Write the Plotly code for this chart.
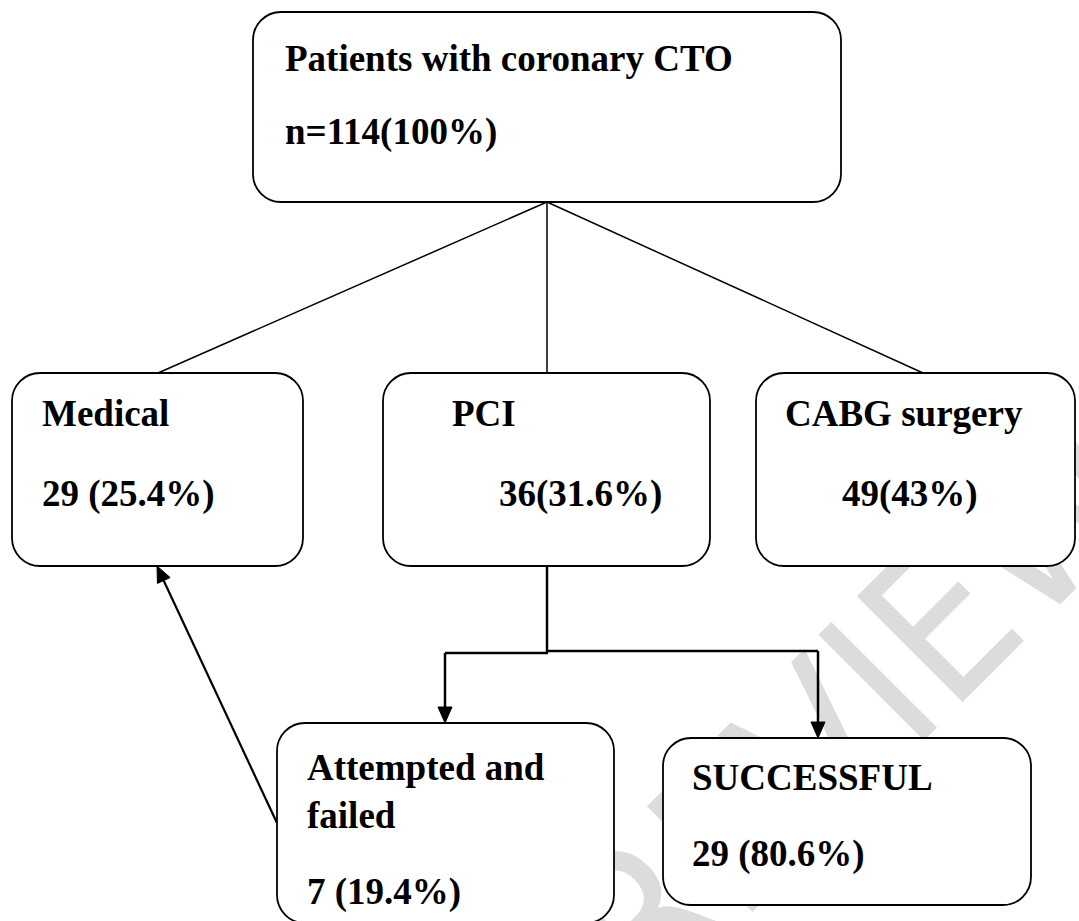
import math
import plotly.graph_objects as go

# ---------------- data ----------------
node_ids = ["root", "medical", "pci", "cabg", "failed", "success"]
node_titles = [["Patients with coronary CTO"], ["Medical"], ["PCI"], ["CABG surgery"],
               ["Attempted and", "failed"], ["SUCCESSFUL"]]
node_counts = [114, 29, 36, 49, 7, 29]
node_pcts = [100, 25.4, 31.6, 43, 19.4, 80.6]
count_formats = ["n={n}({p}%)", "{n} ({p}%)", "{n}({p}%)", "{n}({p}%)", "{n} ({p}%)", "{n} ({p}%)"]
watermark_text = "PREVIEW"

# ---------------- layout geometry (pixels) ----------------
W, H = 1079, 921
boxes = {
    "root":    (253, 12, 841, 202),
    "medical": (12, 373, 303, 566),
    "pci":     (383, 373, 710, 566),
    "cabg":    (756, 373, 1075, 566),
    "failed":  (277, 723, 614, 923),
    "success": (663, 738, 1031, 905),
}
title_pos = {  # x, y of each title line
    "root":    (283, [58]),
    "medical": (40, [413]),
    "pci":     (450, [413]),
    "cabg":    (783, [413]),
    "failed":  (305, [767, 815]),
    "success": (690, [777]),
}
count_pos = {
    "root": (283, 132), "medical": (40, 494), "pci": (497, 494),
    "cabg": (840, 494), "failed": (305, 892), "success": (690, 854),
}
RADIUS = 28
FONT = dict(family="Liberation Serif", size=37, color="black", weight="bold")
WM_CENTER = (805, 738)


def rrect(x0, y0, x1, y1, r):
    k = 0.5523 * r
    return (f"M{x0+r},{y0} L{x1-r},{y0} C{x1-r+k},{y0} {x1},{y0+r-k} {x1},{y0+r} "
            f"L{x1},{y1-r} C{x1},{y1-r+k} {x1-r+k},{y1} {x1-r},{y1} "
            f"L{x0+r},{y1} C{x0+r-k},{y1} {x0},{y1-r+k} {x0},{y1-r} "
            f"L{x0},{y0+r} C{x0},{y0+r-k} {x0+r-k},{y0} {x0+r},{y0} Z")


def arrow_head(xt, yt, xs, ys, length=16, width=14):
    dx, dy = xt - xs, yt - ys
    d = math.hypot(dx, dy)
    ux, uy = dx / d, dy / d
    bx, by = xt - ux * length, yt - uy * length
    px, py = -uy * width / 2, ux * width / 2
    return f"M{xt},{yt} L{bx+px},{by+py} L{bx-px},{by-py} Z"


fig = go.Figure()
fig.add_trace(go.Scatter(x=[], y=[], mode="markers", showlegend=False, hoverinfo="skip"))

shapes = []
# watermark (behind the boxes)
cx, cy = WM_CENTER
shapes.append(dict(type="rect", xref="x", yref="y", x0=cx - 300, y0=cy - 300, x1=cx + 300, y1=cy + 300,
                   line=dict(width=0), fillcolor="rgba(0,0,0,0)", layer="below",
                   label=dict(text=watermark_text, textangle=-45, textposition="middle center",
                              font=dict(family="Liberation Sans Narrow, Arial Narrow, DejaVu Sans Condensed, Liberation Sans",
                                        size=205, color="#dcdcdc"))))


def line(x0, y0, x1, y1, w=2):
    shapes.append(dict(type="line", xref="x", yref="y", x0=x0, y0=y0, x1=x1, y1=y1,
                       line=dict(color="black", width=w), layer="above"))


def tri(xt, yt, xs, ys):
    shapes.append(dict(type="path", xref="x", yref="y", path=arrow_head(xt, yt, xs, ys),
                       fillcolor="black", line=dict(color="black", width=1), layer="above"))


# connectors from root
for tx in (158, 547, 923):
    line(547, 202, tx, 373, 1.5)
# PCI split
line(547, 566, 547, 653, 2.5)
line(445, 653, 548, 653, 2.5)
line(547, 651, 818, 651, 2.5)
line(445, 653, 445, 712, 2.5)
tri(445, 723, 445, 653)
line(818, 651, 818, 727, 2.5)
tri(818, 738, 818, 651)
# failed -> medical
line(277, 823, 162, 577, 2.2)
tri(157, 566, 277, 823)

for nid in node_ids:
    x0, y0, x1, y1 = boxes[nid]
    shapes.append(dict(type="path", xref="x", yref="y", path=rrect(x0, y0, x1, y1, RADIUS),
                       fillcolor="white", line=dict(color="black", width=1.8), layer="above"))

annotations = []
for nid, titles, n, p, fmt in zip(node_ids, node_titles, node_counts, node_pcts, count_formats):
    tx, tys = title_pos[nid]
    for t, ty in zip(titles, tys):
        annotations.append(dict(x=tx, y=ty, xref="x", yref="y", text=t, showarrow=False,
                                xanchor="left", yanchor="middle", font=FONT))
    px_, py_ = count_pos[nid]
    annotations.append(dict(x=px_, y=py_, xref="x", yref="y", text=fmt.format(n=n, p=f"{p:g}"),
                            showarrow=False, xanchor="left", yanchor="middle", font=FONT))

fig.update_layout(
    width=W, height=H, margin=dict(l=0, r=0, t=0, b=0),
    paper_bgcolor="white", plot_bgcolor="white",
    xaxis=dict(range=[0, W], visible=False, fixedrange=True),
    yaxis=dict(range=[H, 0], visible=False, fixedrange=True),
    shapes=shapes, annotations=annotations, showlegend=False,
)
fig.write_html("out.html", config={"displayModeBar": False},
               post_script="document.body.style.margin='0';")
